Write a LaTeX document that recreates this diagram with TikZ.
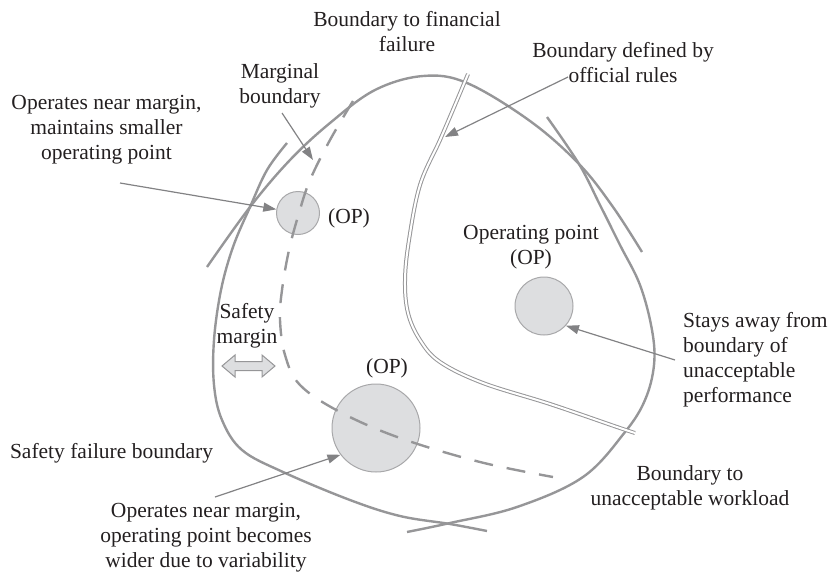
\documentclass[tikz,border=0pt]{standalone}
\usepackage{fontspec}
\setmainfont{Liberation Serif}
\usetikzlibrary{arrows.meta}

\definecolor{ink}{RGB}{35,31,32}
\definecolor{bound}{RGB}{150,150,152}
\definecolor{pointer}{RGB}{130,130,132}
\definecolor{opfill}{RGB}{221,222,224}
\definecolor{opedge}{RGB}{168,168,170}

\tikzset{
  lbl/.style={font=\fontsize{21.5}{25}\selectfont, text=ink, inner sep=0pt, align=center, anchor=north},
  boundary/.style={draw=bound, line width=2.4pt},
  marginline/.style={draw=bound, line width=2.4pt, dash pattern=on 19pt off 14pt},
  rules/.style={draw=bound, line width=1pt, double=white, double distance=2pt},
  opzone/.style={circle, fill=opfill, draw=opedge, line width=1pt, inner sep=0pt},
  pointto/.style={draw=pointer, line width=1.2pt, -{Triangle[length=13pt,width=9pt]}},
  twoway/.style={fill=opfill, draw=bound, line width=1pt, line join=miter}
}

\begin{document}
\begin{tikzpicture}[x=1pt, y=-1pt]
  \useasboundingbox (0,0) rectangle (829,571);

  % safety failure boundary (left and lower left)
  \draw[boundary] plot[smooth, tension=0.6] coordinates {
    (287,143) (267,170) (250,207) (233,247) (221,290) (214,340) (214,385)
    (222,420) (242,450) (283,472) (350,500) (400,516) (450,524) (487,531)};

  % boundary to financial failure (top arc)
  \draw[boundary] plot[smooth, tension=0.6] coordinates {
    (207,267) (250,207) (290,160) (330,123) (375,90) (423,76) (467,83)
    (530,121) (579,164) (613,207) (642,252)};

  % boundary to unacceptable workload (right and lower right)
  \draw[boundary] plot[smooth, tension=0.6] coordinates {
    (547,117) (579,164) (600,205) (620,245) (640,285) (652,330) (654,365)
    (645,400) (625,432) (583,477) (517,507) (450,523) (407,532)};

  % boundary defined by official rules
  \draw[rules] plot[smooth, tension=0.6] coordinates {
    (468,74) (455,105) (440,140) (420,185) (409,240) (405,280) (408,313)
    (420,340) (440,362) (483,383) (550,404) (617,427) (635,433)};

  % operating points
  \node[opzone, minimum size=43pt] (opS) at (298,213) {};
  \node[opzone, minimum size=58pt] (opR) at (544,306) {};
  \node[opzone, minimum size=88pt] (opB) at (376,428) {};

  % marginal boundary
  \draw[marginline] plot[smooth, tension=0.6] coordinates {
    (353,101) (330,140) (310,180) (299,213) (289,250) (282,290) (280,320)
    (285,355) (300,385) (340,412) (400,438) (480,462) (553,477)};

  % safety margin double arrow
  \draw[twoway] (222,366) -- (235,355) -- (235,361.5) -- (262,361.5) -- (262,355)
    -- (275,366) -- (262,377) -- (262,370.5) -- (235,370.5) -- (235,377) -- cycle;

  % labels
  \node[lbl] (tFin) at (407,11) {Boundary to financial\\failure};
  \node[lbl] (tRules) at (623,42) {Boundary defined by\\official rules};
  \node[lbl] (tMarg) at (280,63) {Marginal\\boundary};
  \node[lbl] (tSmall) at (106.5,95) {Operates near margin,\\maintains smaller\\operating point};
  \node[lbl] (opSlbl) at (349,208) {(OP)};
  \node[lbl] (opRlbl) at (531,225) {Operating point\\(OP)};
  \node[lbl] (opBlbl) at (387,358) {(OP)};
  \node[lbl] (tSafeM) at (247,303) {Safety\\margin};
  \node[lbl] (tSafeB) at (111.5,443) {Safety failure boundary};
  \node[lbl] (tWide) at (206,503) {Operates near margin,\\operating point becomes\\wider due to variability};
  \node[lbl, anchor=north west, align=left] (tAway) at (683,312) {Stays away from\\boundary of\\unacceptable\\performance};
  \node[lbl] (tWork) at (690,465) {Boundary to\\unacceptable workload};

  % pointer lines
  \coordinate (pRules) at (568,77);
  \coordinate (pRulesEnd) at (445,137);
  \coordinate (pMarg) at (282,113);
  \coordinate (pMargEnd) at (313,160);
  \coordinate (pSmall) at (120,183);
  \coordinate (pAway) at (675,360);
  \coordinate (pWide) at (215,497);

  \draw[pointto] (pRules) -- (pRulesEnd);
  \draw[pointto] (pMarg) -- (pMargEnd);
  \draw[pointto] (pSmall) -- (opS);
  \draw[pointto] (pAway) -- (opR.-42);
  \draw[pointto] (pWide) -- (opB.217);
\end{tikzpicture}
\end{document}
